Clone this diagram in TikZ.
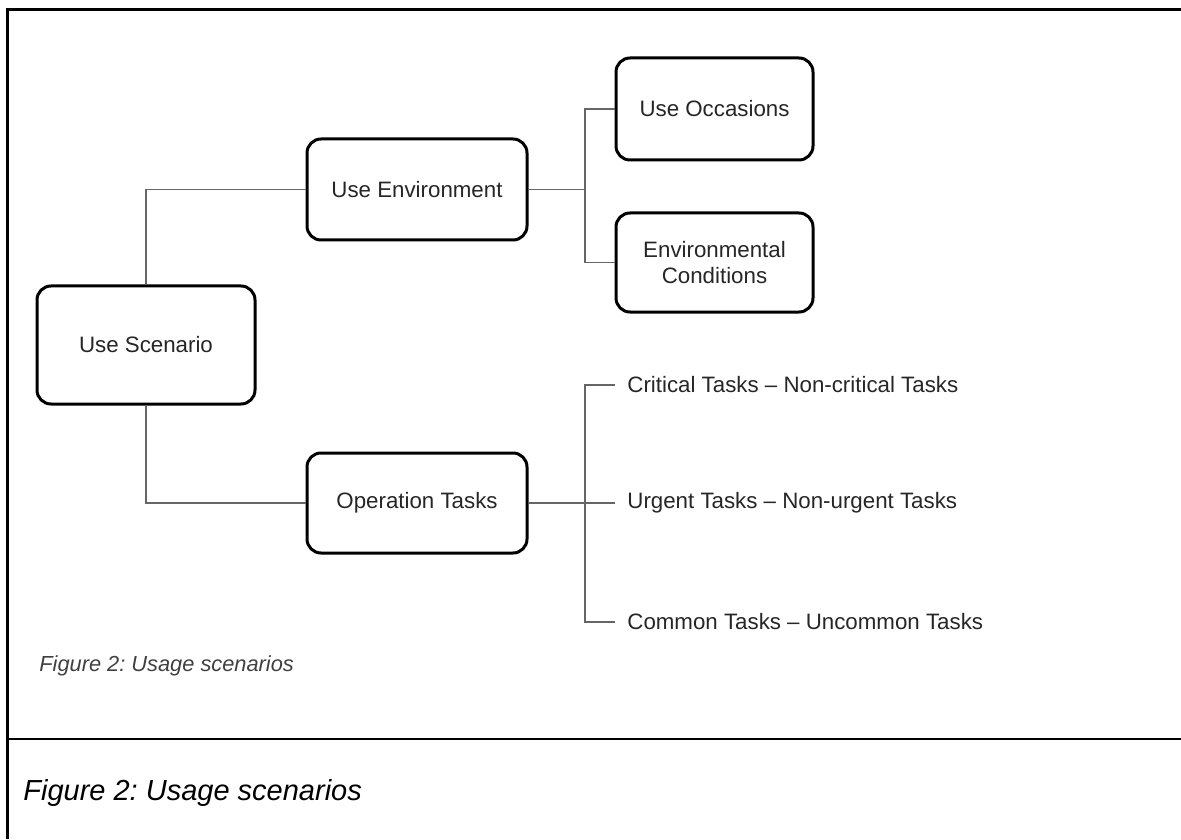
\documentclass[tikz,border=0pt]{standalone}
\usepackage{fontspec}
\setmainfont{Liberation Sans}
\frenchspacing
\begin{document}
\begin{tikzpicture}[x=0.5pt, y=-0.5pt,
    box/.style={draw, line width=1.5pt, rounded corners=7pt, align=center, inner sep=0pt,
      text=black!85, font=\fontsize{11.15}{13}\selectfont},
    task/.style={anchor=west, inner ysep=0pt, inner xsep=6pt,
      text=black!85, font=\fontsize{11.15}{13}\selectfont},
    link/.style={draw=black!60, line width=0.6pt},
    frame/.style={line width=1.4pt}]
  \useasboundingbox (0,0) rectangle (1181,839);
  \draw[frame] (7.5,839) -- (7.5,9.5) -- (1181,9.5);
  \draw[frame] (7.5,739) -- (1181,739);
  \node[box, minimum width=109pt, minimum height=59pt] (scen) at (146,345) {Use Scenario};
  \node[box, minimum width=110pt, minimum height=50.5pt] (env) at (417,189.5) {Use Environment};
  \node[box, minimum width=110pt, minimum height=50pt] (ops) at (417,503) {Operation Tasks};
  \node[box, minimum width=98.5pt, minimum height=51pt] (occ) at (714.5,109) {Use Occasions};
  \node[box, minimum width=98.5pt, minimum height=49.5pt] (cond) at (714.5,262.5) {Environmental\\Conditions};
  \node[task] (t1) at (615,385) {Critical Tasks \textendash{} Non-critical Tasks};
  \node[task] (t2) at (615,503) {Urgent Tasks \textendash{} Non-urgent Tasks};
  \node[task] (t3) at (615,622) {Common Tasks \textendash{} Uncommon Tasks};
  \coordinate (j1) at (585,189.5);
  \coordinate (j2) at (585,503);
  \draw[link] (scen.north) |- (env.west);
  \draw[link] (scen.south) |- (ops.west);
  \draw[link] (env.east) -- (j1);
  \draw[link] (occ.west) -| (j1) |- (cond.west);
  \draw[link] (ops.east) -- (t2.west);
  \draw[link] (t1.west) -| (j2) |- (t3.west);
  \node[anchor=base west, inner sep=0pt, text=black!75, font=\itshape\fontsize{10.9}{13}\selectfont] (cap) at (39,671) {Figure 2: Usage scenarios};
  \node[anchor=base west, inner sep=0pt, font=\itshape\fontsize{14.5}{17}\selectfont] (capmain) at (23,800) {Figure 2: Usage scenarios};
\end{tikzpicture}
\end{document}
